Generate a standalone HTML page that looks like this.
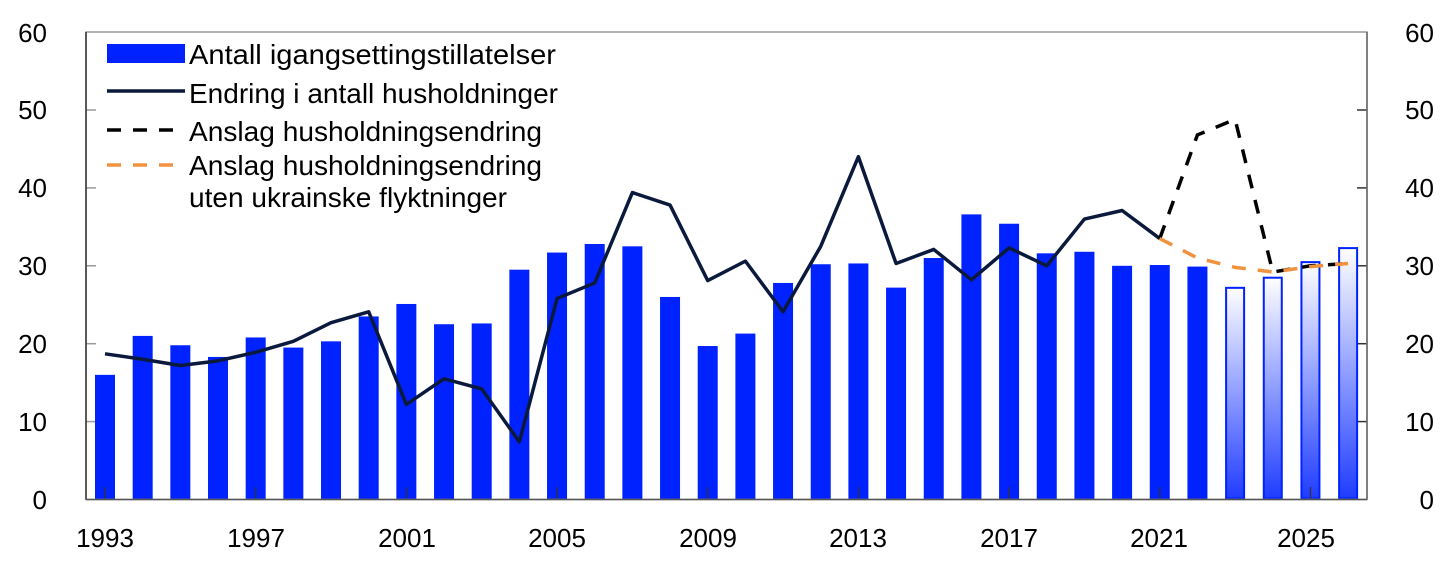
<!DOCTYPE html>
<html><head><meta charset="utf-8"><style>
html,body{margin:0;padding:0;background:#fff;}
svg text{font-family:"Liberation Sans",Arial,sans-serif;font-size:26px;fill:#000;}
svg text.lg{font-size:28px;}
</style></head><body>
<svg id="s" width="1445" height="568" viewBox="0 0 1445 568" xmlns="http://www.w3.org/2000/svg">
<defs>
<linearGradient id="g" x1="0" y1="0" x2="0" y2="1">
<stop offset="0" stop-color="#ffffff"/><stop offset="1" stop-color="#1f3cff"/>
</linearGradient>
</defs>
<g id="grid"></g>
<g id="bars"></g>
<g id="lines"></g>
<rect x="86" y="32" width="1281" height="467.5" fill="none" stroke="#999" stroke-width="1.5"/>
<line x1="86" y1="32" x2="86" y2="499.5" stroke="#333" stroke-width="1.5"/>
<line x1="1367" y1="32" x2="1367" y2="499.5" stroke="#666" stroke-width="1.5"/>
<line x1="86" y1="499.5" x2="1367" y2="499.5" stroke="#555" stroke-width="1.5"/>
<g text-anchor="end">
<text x="47" y="509">0</text><text x="47" y="431">10</text><text x="47" y="353">20</text><text x="47" y="275">30</text><text x="47" y="197">40</text><text x="47" y="119">50</text><text x="47" y="42">60</text>
</g>
<g text-anchor="end">
<text x="1434" y="509">0</text><text x="1434" y="431">10</text><text x="1434" y="353">20</text><text x="1434" y="275">30</text><text x="1434" y="197">40</text><text x="1434" y="119">50</text><text x="1434" y="42">60</text>
</g>
<g text-anchor="middle">
<text x="105" y="547">1993</text><text x="256" y="547">1997</text><text x="407" y="547">2001</text><text x="557" y="547">2005</text><text x="708" y="547">2009</text><text x="858" y="547">2013</text><text x="1009" y="547">2017</text><text x="1159" y="547">2021</text><text x="1306" y="547">2025</text>
</g>
<rect x="107" y="44" width="78" height="19" fill="#0022ff"/>
<line x1="107" y1="91" x2="185" y2="91" stroke="#0b1a3c" stroke-width="3.5"/>
<line x1="107" y1="130" x2="185" y2="130" stroke="#000" stroke-width="3.5" stroke-dasharray="14,12"/>
<line x1="107" y1="165" x2="185" y2="165" stroke="#f0923e" stroke-width="3.5" stroke-dasharray="14,12"/>
<text class="lg" x="189" y="64" textLength="367" lengthAdjust="spacingAndGlyphs">Antall igangsettingstillatelser</text>
<text class="lg" x="189" y="103" textLength="369" lengthAdjust="spacingAndGlyphs">Endring i antall husholdninger</text>
<text class="lg" x="189" y="141" textLength="353" lengthAdjust="spacingAndGlyphs">Anslag husholdningsendring</text>
<text class="lg" x="189" y="175" textLength="353" lengthAdjust="spacingAndGlyphs">Anslag husholdningsendring</text>
<text class="lg" x="189" y="207" textLength="318" lengthAdjust="spacingAndGlyphs">uten ukrainske flyktninger</text>
</svg>
<script>
const NS="http://www.w3.org/2000/svg";
const X=y=>105+(y-1993)*37.67, Y=v=>499.5-v*7.79;
function el(p,t,a){const e=document.createElementNS(NS,t);for(const k in a)e.setAttribute(k,a[k]);document.getElementById(p).appendChild(e);return e;}
for(let v=10;v<=50;v+=10){el('grid','line',{x1:86,x2:96,y1:Y(v),y2:Y(v),stroke:'#999','stroke-width':1.5});el('grid','line',{x1:1357,x2:1367,y1:Y(v),y2:Y(v),stroke:'#333','stroke-width':1.5});}
const bars=[16,21,19.8,18.3,20.8,19.5,20.3,23.5,25.1,22.5,22.6,29.5,31.7,32.8,32.5,26,19.7,21.3,27.8,30.2,30.3,27.2,31,36.6,35.4,31.6,31.8,30,30.1,29.9,27.3,28.6,30.6,32.4];
bars.forEach((v,i)=>{const yr=1993+i,x=X(yr)-10;
 if(yr<2023) el('bars','rect',{x:x,y:Y(v),width:20,height:499.5-Y(v),fill:'#0022ff'});
 else el('bars','rect',{x:x+1,y:Y(v)+1,width:18,height:498.5-Y(v)-1,fill:'url(#g)',stroke:'#0022ff','stroke-width':2});});
[1993,1997,2001,2005,2009,2013,2017,2021,2025].forEach(y=>el('bars','line',{x1:X(y),x2:X(y),y1:487,y2:499.5,stroke:'#333','stroke-width':1.3}));
const ln=[18.7,18,17.2,17.8,18.9,20.3,22.7,24.1,12.2,15.5,14.2,7.4,25.8,27.8,39.4,37.8,28.1,30.6,24.1,32.5,44,30.3,32.1,28.2,32.3,30,36,37.1,33.5];
const pts=a=>a.map(([y,v])=>X(y)+','+Y(v)).join(' ');
el('lines','polyline',{points:pts(ln.map((v,i)=>[1993+i,v])),fill:'none',stroke:'#0b1a3c','stroke-width':3.5,'stroke-linejoin':'round'});
el('lines','polyline',{points:pts([[2021,33.5],[2022,46.8],[2023,48.8],[2024,29.2],[2025,30],[2026,30.3]]),fill:'none',stroke:'#000','stroke-width':3.5,'stroke-dasharray':'14,12'});
el('lines','polyline',{points:pts([[2021,33.5],[2022,31],[2023,29.8],[2024,29.2],[2025,29.9],[2026,30.3]]),fill:'none',stroke:'#f0923e','stroke-width':3.5,'stroke-dasharray':'14,12'});
</script>
</body></html>
